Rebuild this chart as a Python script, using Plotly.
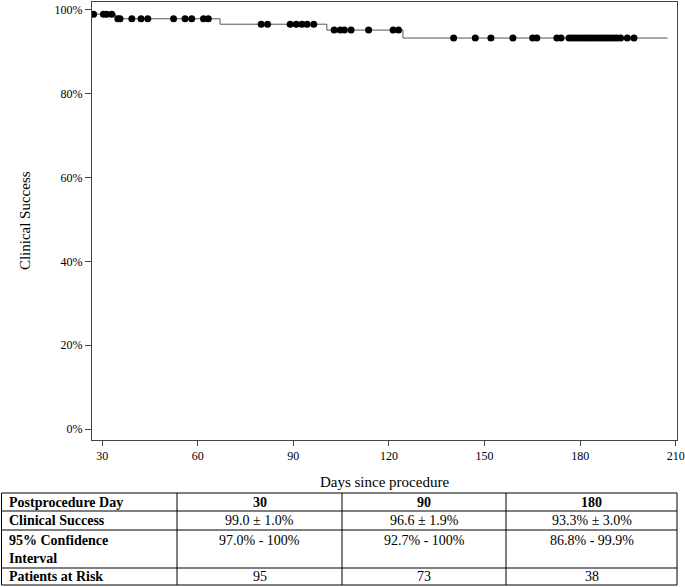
import plotly.graph_objects as go

# ---- data ----
step_days = [27.0, 34.2, 67.0, 100.5, 124.4, 207.4]
step_levels = [99.0, 97.9, 96.6, 95.2, 93.3, 93.3]

censor_days = [27.3, 30.4, 31.4, 33.0,
               34.9, 35.6, 39.3, 42.2, 44.3, 52.4, 56.0, 58.1, 61.8, 63.3,
               79.9, 81.9, 89.0, 90.9, 92.7, 94.3, 96.4,
               102.8, 104.7, 106.0, 108.1, 113.6, 121.3, 123.0,
               140.3, 147.1, 152.0, 158.9, 165.1, 166.4, 172.7, 174.0,
               176.5, 177.5, 178.5, 179.5, 180.5, 181.5, 182.5, 183.5,
               184.5, 185.5, 186.5, 187.5, 188.5, 189.5, 190.5, 191.5,
               192.7, 194.8, 196.9]

x_ticks = [30, 60, 90, 120, 150, 180, 210]
y_ticks = [0, 20, 40, 60, 80, 100]
y_ticktext = ["0%", "20%", "40%", "60%", "80%", "100%"]

table_header = ["Postprocedure Day", "30", "90", "180"]
table_rows = ["Clinical Success", "95% Confidence<br>Interval", "Patients at Risk"]
col_30 = ["99.0 \u00b1 1.0%", "97.0% - 100%", "95"]
col_90 = ["96.6 \u00b1 1.9%", "92.7% - 100%", "73"]
col_180 = ["93.3% \u00b1 3.0%", "86.8% - 99.9%", "38"]


def level_at(d):
    lvl = step_levels[0]
    for sd, sl in zip(step_days, step_levels):
        if d >= sd:
            lvl = sl
    return lvl


censor_levels = [level_at(d) for d in censor_days]

W, H = 685, 587
FONT = "Liberation Serif"


def px(x):
    return x / W


def py(y):
    return 1 - y / H


fig = go.Figure()
fig.add_trace(go.Scatter(x=step_days, y=step_levels, mode="lines",
                         line=dict(shape="hv", color="#555555", width=1),
                         hoverinfo="skip", showlegend=False))
fig.add_trace(go.Scatter(x=censor_days, y=censor_levels, mode="markers",
                         marker=dict(color="black", size=7, symbol="circle"),
                         showlegend=False))

# ---- table (layout geometry) ----
col_edges = [1.5, 177, 342, 506, 677]
row_edges = [493, 511, 530, 568, 585]
row_text_y = [502, 520.5, 540, 576.5]

shapes = []
for xe in col_edges:
    shapes.append(dict(type="line", xref="paper", yref="paper",
                       x0=px(xe), x1=px(xe), y0=py(row_edges[0]), y1=py(row_edges[-1]),
                       line=dict(color="black", width=1)))
for ye in row_edges:
    shapes.append(dict(type="line", xref="paper", yref="paper",
                       x0=px(col_edges[0]), x1=px(col_edges[-1]), y0=py(ye), y1=py(ye),
                       line=dict(color="black", width=1)))

annotations = []
columns = [["<b>" + table_header[0] + "</b>"] + ["<b>" + r + "</b>" for r in table_rows],
           ["<b>" + table_header[1] + "</b>"] + col_30,
           ["<b>" + table_header[2] + "</b>"] + col_90,
           ["<b>" + table_header[3] + "</b>"] + col_180]
for ci, col in enumerate(columns):
    for ri, txt in enumerate(col):
        if ci == 0:
            xx, xa = col_edges[0] + 5, "left"
        else:
            xx, xa = (col_edges[ci] + col_edges[ci + 1]) / 2, "center"
        yy, ya = row_text_y[ri], "middle"
        if "<br>" in txt:
            yy, ya = row_text_y[ri] - 9, "top"
        annotations.append(dict(text=txt, xref="paper", yref="paper",
                                x=px(xx), y=py(yy), xanchor=xa, yanchor=ya,
                                align="left", showarrow=False,
                                font=dict(family=FONT, size=14, color="black")))

fig.update_layout(
    width=W, height=H,
    margin=dict(l=0, r=0, t=0, b=0),
    paper_bgcolor="white", plot_bgcolor="white",
    font=dict(family=FONT, size=12, color="black"),
    shapes=shapes, annotations=annotations,
    xaxis=dict(domain=[92 / W, 677 / W], range=[26.8, 210.4],
               tickvals=x_ticks, ticks="outside", ticklen=5, tickcolor="#444",
               showline=True, linecolor="#444", linewidth=1, mirror=True,
               showgrid=False, zeroline=False, automargin=False,
               tickfont=dict(family=FONT, size=12),
               title=dict(text="Days since procedure", font=dict(family=FONT, size=15), standoff=14)),
    yaxis=dict(domain=[(H - 439.5) / H, (H - 2) / H], range=[-2.5, 101.9],
               tickvals=y_ticks, ticktext=y_ticktext, ticks="outside", ticklen=6, tickcolor="#444",
               showline=True, linecolor="#444", linewidth=1, mirror=True,
               showgrid=False, zeroline=False, automargin=False,
               tickfont=dict(family=FONT, size=12),
               title=dict(text="Clinical Success", font=dict(family=FONT, size=15), standoff=20)),
)

fig.write_html("out.html", config={"displayModeBar": False},
               post_script="document.body.style.margin='0';")
